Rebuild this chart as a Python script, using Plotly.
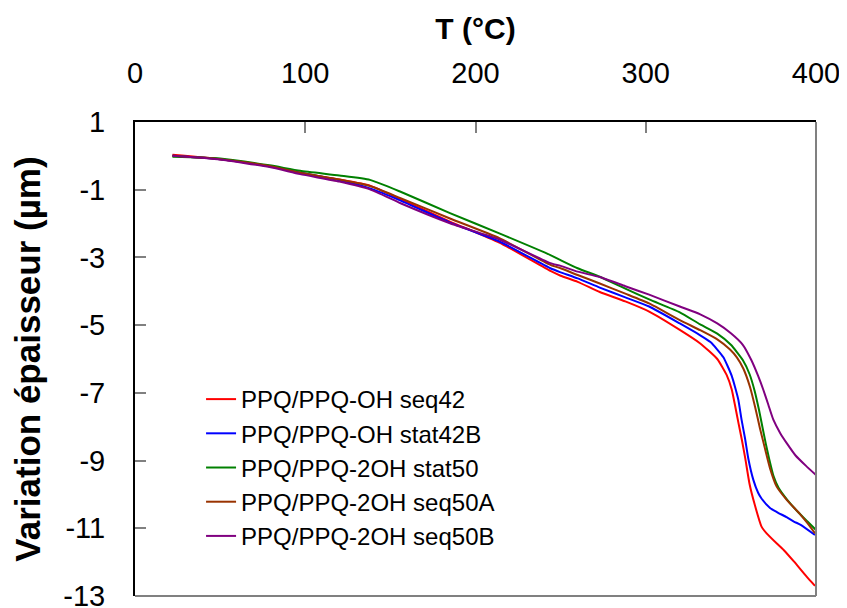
import plotly.graph_objects as go

names = ["PPQ/PPQ-OH seq42", "PPQ/PPQ-OH stat42B", "PPQ/PPQ-2OH stat50",
         "PPQ/PPQ-2OH seq50A", "PPQ/PPQ-2OH seq50B"]
colors = ["#FF0000", "#0000FF", "#008000", "#993300", "#800080"]

t_early = [22, 50, 79, 97, 120, 138, 156, 185, 214, 244, 250, 260, 273, 288, 302]

t_red = t_early + [320, 332, 342, 347.5, 350.5, 352.4, 354.5, 356.5, 358.5, 361, 364, 368, 371, 377, 381, 387, 394.5, 399.4]
v_red = [0.03, -0.10, -0.31, -0.50, -0.70, -0.88, -1.28, -1.94, -2.56, -3.40, -3.54, -3.72, -4.02, -4.30, -4.60,
         -5.14, -5.54, -6.0, -6.47, -6.9, -7.36, -7.9, -8.4, -8.95, -9.7, -10.3, -10.95, -11.15, -11.45, -11.64, -11.98, -12.43, -12.7]

t_blue = t_early + [320, 332, 338, 342, 345.6, 348, 350.5, 352.4, 354.4, 356.3, 358.3, 360.2, 363.2, 366, 368, 373, 377, 383, 387, 391, 399.4]
v_blue = [0.0, -0.10, -0.31, -0.50, -0.72, -0.96, -1.32, -1.97, -2.53, -3.32, -3.44, -3.62, -3.89, -4.18, -4.45,
          -4.95, -5.3, -5.5, -5.72, -5.95, -6.2, -6.5, -6.82, -7.21, -7.8, -8.34, -8.93, -9.57, -9.95, -10.12, -10.4, -10.52, -10.68, -10.8, -10.9, -11.2]

t_green = t_early + [320, 332, 342, 350, 357, 361, 364, 366.5, 368.5, 370.5, 372.5, 375, 378, 383, 390, 395, 400]
v_green = [-0.03, -0.08, -0.28, -0.44, -0.58, -0.71, -1.06, -1.69, -2.29, -2.93, -3.08, -3.32, -3.57, -3.92, -4.24,
           -4.62, -4.98, -5.25, -5.58, -6.03, -6.45, -6.95, -7.5, -8.0, -8.5, -8.95, -9.45, -9.8, -10.15, -10.55, -10.8, -11.05]

t_brown = t_early + [320, 332, 342, 349.5, 353.5, 357.3, 361.2, 364.2, 367.1, 370, 373, 376.9, 382.8, 390.6, 395, 399.4]
v_brown = [0.0, -0.10, -0.30, -0.50, -0.70, -0.89, -1.25, -1.85, -2.43, -3.22, -3.32, -3.52, -3.77, -4.07, -4.36,
           -4.85, -5.15, -5.42, -5.72, -5.95, -6.28, -6.82, -7.41, -8.05, -8.64, -9.23, -9.77, -10.16, -10.58, -10.85, -11.15]

t_purple = t_early + [320, 332, 342, 350, 357, 362, 366, 369, 372, 375, 379, 383, 388, 394, 400]
v_purple = [0.0, -0.11, -0.33, -0.54, -0.76, -0.99, -1.40, -1.99, -2.47, -3.17, -3.25, -3.42, -3.58, -3.85, -4.10,
            -4.45, -4.68, -4.95, -5.24, -5.58, -6.03, -6.5, -6.9, -7.35, -7.8, -8.19, -8.5, -8.85, -9.15, -9.43]

x_ticks = [0, 100, 200, 300, 400]
y_ticks = [1, -1, -3, -5, -7, -9, -11, -13]
y_ticktext = ["1", "-1", "-3", "-5", "-7", "-9", "-11", "-13"]

series_t = [t_red, t_blue, t_green, t_brown, t_purple]
series_v = [v_red, v_blue, v_green, v_brown, v_purple]

FONT = "Liberation Sans, Arial, sans-serif"

fig = go.Figure()
for n, c, t, v in zip(names, colors, series_t, series_v):
    fig.add_trace(go.Scatter(x=t, y=v, mode="lines", name=n,
                             line=dict(color=c, width=2, shape="spline", smoothing=0.5)))

# page body has an 8px margin: figure is sized/placed to compensate
fig.update_layout(
    width=839, height=600,
    margin=dict(l=127, r=31, t=114, b=12, autoexpand=False),
    paper_bgcolor="white", plot_bgcolor="white",
    font=dict(family=FONT, color="black"),
    showlegend=True,
    legend=dict(x=0.097, y=0.462, xanchor="left", yanchor="top",
                bgcolor="rgba(0,0,0,0)", font=dict(size=24, family=FONT),
                tracegroupgap=0, itemwidth=30),
    xaxis=dict(side="top", range=[0, 400], tickvals=x_ticks,
               ticks="inside", ticklen=11, tickwidth=2, tickcolor="#808080",
               showline=True, linecolor="black", linewidth=2, mirror=False,
               showgrid=False, zeroline=False, automargin=False,
               ticklabeloverflow="allow",
               tickfont=dict(size=29, family=FONT), ticklabelstandoff=25,
               title=dict(text="<b>T (°C)</b>", font=dict(size=30, family=FONT), standoff=9)),
    yaxis=dict(range=[-13, 1], tickvals=y_ticks, ticktext=y_ticktext,
               ticks="inside", ticklen=11, tickwidth=2, tickcolor="#808080",
               showline=True, linecolor="black", linewidth=2, mirror=False,
               showgrid=False, zeroline=False, automargin=False,
               ticklabeloverflow="allow",
               tickfont=dict(size=29, family=FONT), ticklabelstandoff=22,
               title=dict(text="<b>Variation épaisseur (µm)</b>", font=dict(size=35, family=FONT), standoff=18)),
    shapes=[
        dict(type="line", xref="paper", yref="paper", x0=0, x1=1, y0=0, y1=0,
             line=dict(color="#808080", width=2)),
        dict(type="line", xref="paper", yref="paper", x0=1, x1=1, y0=0, y1=1,
             line=dict(color="#808080", width=2)),
    ],
)

fig.write_html("out.html")
